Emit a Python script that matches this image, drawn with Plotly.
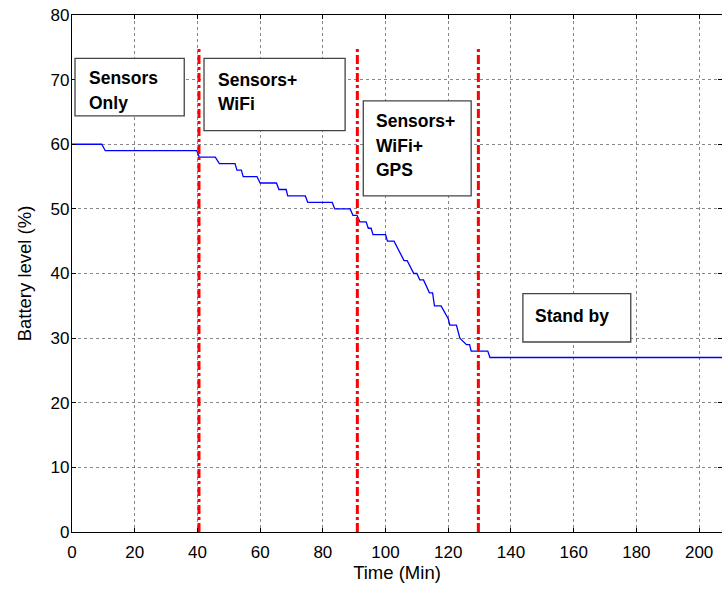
import plotly.graph_objects as go

# Battery level trace (vertices of the stepped curve)
time_min = [0, 9.5, 10.6, 39.8, 40.6, 45.7, 47.0, 52.0, 52.6, 54.0, 54.6, 59.0, 60.0, 65.2,
            66.0, 68.3, 68.8, 74.4, 75.2, 83.0, 83.8, 88.7, 89.6, 90.9, 91.8, 93.8, 94.5,
            95.4, 96.0, 100.0, 100.6, 102.7, 105.9, 106.9, 109.0, 110.0, 110.9, 112.1,
            114.0, 115.0, 115.6, 117.7, 120.0, 120.5, 122.6, 123.7, 125.8, 126.8, 127.3,
            132.6, 133.3, 207.3]
battery_pct = [60, 60, 59, 59, 58, 58, 57, 57, 56, 56, 55, 55, 54, 54,
               53, 53, 52, 52, 51, 51, 50, 50, 49, 49, 48, 48, 47,
               47, 46, 46, 45, 45, 42, 42, 40, 40, 39, 39,
               37, 37, 35, 35, 33, 32, 32, 30, 29, 29, 28,
               28, 27, 27]

# Phase boundaries (minutes)
phase_times = [40.5, 91.0, 129.6]
phase_top = 75

# Phase labels
phase_labels = [["Sensors", "Only"], ["Sensors+", "WiFi"], ["Sensors+", "WiFi+", "GPS"], ["Stand by"]]

x_ticks = [0, 20, 40, 60, 80, 100, 120, 140, 160, 180, 200]
y_ticks = [0, 10, 20, 30, 40, 50, 60, 70, 80]

fig = go.Figure()

fig.add_trace(go.Scatter(
    x=time_min, y=battery_pct, mode="lines",
    line=dict(color="#0000FF", width=1.3), showlegend=False, hoverinfo="skip"))

for t in phase_times:
    fig.add_trace(go.Scatter(
        x=[t, t], y=[0, phase_top], mode="lines",
        line=dict(color="#FF0000", width=3, dash="9px,3px,3px,3px"),
        showlegend=False, hoverinfo="skip"))

# box geometry (data coordinates): x0, x1, y0, y1, text x, first line y, line step
boxes = [
    (0.96, 35.8, 64.4, 73.3, 4.9, 70.2, 3.87),
    (42.1, 87.1, 62.1, 73.3, 45.9, 69.9, 3.7),
    (92.9, 127.3, 52.0, 66.7, 96.3, 63.6, 3.8),
    (143.8, 178.2, 29.4, 36.9, 147.1, 33.5, 3.8),
]

shapes = []
annotations = []
for (x0, x1, y0, y1, tx, ty, step), lines in zip(boxes, phase_labels):
    shapes.append(dict(type="rect", xref="x", yref="y", x0=x0, x1=x1, y0=y0, y1=y1,
                       line=dict(color="#444444", width=1.3), fillcolor="white", layer="above"))
    for i, txt in enumerate(lines):
        annotations.append(dict(x=tx, y=ty - i * step, xref="x", yref="y", text=txt,
                                showarrow=False, xanchor="left", yanchor="middle",
                                font=dict(family="Liberation Sans", size=17.5, color="black", weight="bold")))

axis_common = dict(
    showline=True, linecolor="black", linewidth=1.3, mirror="ticks",
    ticks="inside", ticklen=4, tickcolor="black", tickwidth=1,
    showgrid=True, gridcolor="rgba(70,70,70,0.65)", griddash="dot", gridwidth=1,
    zeroline=False, automargin=False, ticklabeloverflow="allow",
    tickfont=dict(family="Liberation Sans", size=17, color="black"),
)

fig.update_layout(
    width=722, height=589,
    margin=dict(l=72, r=0, t=15, b=57),
    plot_bgcolor="white", paper_bgcolor="white",
    shapes=shapes, annotations=annotations,
    xaxis=dict(range=[0, 207.3], tickvals=x_ticks, ticklabelstandoff=4,
               title=dict(text="Time (Min)", font=dict(family="Liberation Sans", size=18.5, color="black"),
                          standoff=5),
               **axis_common),
    yaxis=dict(range=[0, 80], tickvals=y_ticks, ticklabelstandoff=-2,
               title=dict(text="Battery level (%)", font=dict(family="Liberation Sans", size=18.5, color="black"),
                          standoff=14),
               **axis_common),
)

# remove the browser's default page margin so the figure sits at the window's corner
fig.write_html("out.html", config={"displayModeBar": False},
               post_script="document.body.style.margin='0px'; document.body.style.overflow='hidden';")
